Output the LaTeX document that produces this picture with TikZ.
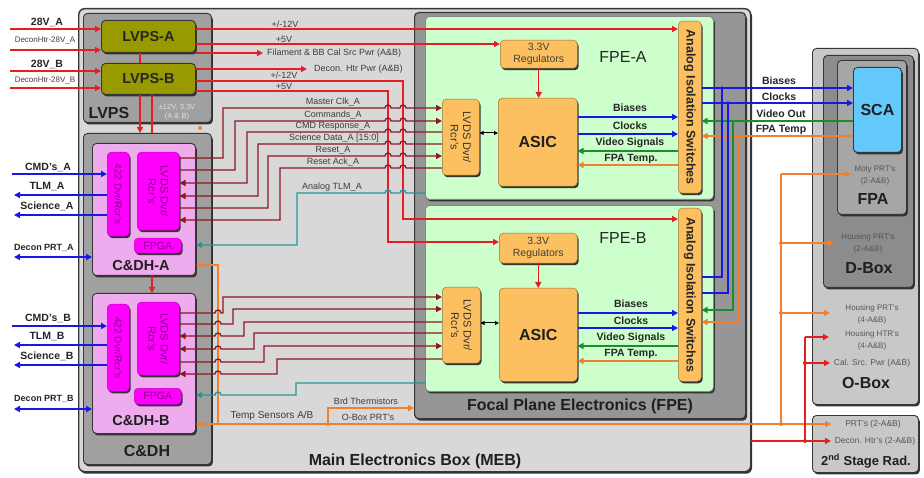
\documentclass[tikz,border=0pt]{standalone}
\usepackage{fontspec}
\setmainfont{Liberation Sans}
\usetikzlibrary{arrows.meta,shadows}
\definecolor{mebfill}{RGB}{216,216,216}
\definecolor{grybox}{RGB}{160,160,160}
\definecolor{edgec}{RGB}{55,55,55}
\definecolor{lvpsol}{RGB}{153,153,0}
\definecolor{cdhpink}{RGB}{238,172,238}
\definecolor{magb}{RGB}{255,0,255}
\definecolor{magtxt}{RGB}{135,0,135}
\definecolor{fpegray}{RGB}{150,150,150}
\definecolor{fpegreen}{RGB}{204,255,204}
\definecolor{orbox}{RGB}{253,192,96}
\definecolor{scablue}{RGB}{100,200,250}
\definecolor{oboxc}{RGB}{200,200,200}
\definecolor{dboxc}{RGB}{140,140,140}
\definecolor{fpac}{RGB}{166,166,166}
\definecolor{pwr}{RGB}{228,30,36}
\definecolor{sig}{RGB}{140,22,34}
\definecolor{blu}{RGB}{24,24,230}
\definecolor{grn}{RGB}{30,140,40}
\definecolor{org}{RGB}{240,128,48}
\definecolor{teal2}{RGB}{40,150,150}
\definecolor{lbl}{RGB}{60,60,60}
\definecolor{lbl2}{RGB}{85,85,85}
\newcommand\myfs[2]{\fontsize{#1}{#2}\selectfont}
\newcommand\bx[7]{\node[box,#1,minimum width=#4-#2,minimum height=#5-#3] (#6) at (#2,#3) {#7};}
\newcommand\hop[2]{-- (#1-3,#2) arc[start angle=180,end angle=0,radius=3pt]}
\begin{document}
\begin{tikzpicture}[x=1pt,y=-1pt,
 box/.style={draw=edgec,line width=0.9pt,rounded corners=4pt,inner sep=0pt,anchor=north west,align=center,
   drop shadow={shadow xshift=1.4pt,shadow yshift=-2pt,fill=black!80,opacity=1}},
 mg/.style={fill=magb,draw=magb!75!black,line width=0.5pt},
 ob/.style={fill=orbox,draw=orbox!60!black,line width=0.5pt},
 pw/.style={draw=pwr,line width=1.4pt},
 sg/.style={draw=sig,line width=1.3pt},
 bu/.style={draw=blu,line width=1.4pt},
 gn/.style={draw=grn,line width=1.4pt},
 og/.style={draw=org,line width=1.4pt},
 tq/.style={draw=teal2,line width=1.3pt},
 ah/.style={-{Triangle[length=6pt,width=6pt]}},
 ahr/.style={{Triangle[length=6pt,width=6pt]}-},
 ahb/.style={{Triangle[length=6pt,width=6pt]}-{Triangle[length=6pt,width=6pt]}},
 tx/.style={inner sep=0pt,text=lbl,font=\myfs{9}{10}},
 fl/.style={inner sep=0pt,text=black!85,font=\myfs{10.5}{12}\bfseries},
 big/.style={inner sep=0pt,text=black!88,font=\myfs{16}{18}\bfseries},
 inl/.style={inner sep=0pt,text=black!85,font=\myfs{10.5}{12}\bfseries},
 isml/.style={inner sep=0pt,text=black!75,font=\myfs{8}{9}},
 sm/.style={inner sep=0pt,text=lbl2,font=\myfs{8}{12},align=center},
 rt/.style={inner sep=0pt,rotate=-90,align=center}
]
\fill[white] (0,0) rectangle (924,478);
\useasboundingbox (0,0) rectangle (924,478);
% ---------- boxes ----------
\bx{fill=mebfill,line width=1.4pt,rounded corners=6pt}{78}{8}{750}{471}{MEB}{}
\bx{fill=grybox}{83}{13}{211}{122}{LVPS}{}
\bx{fill=lvpsol,font=\myfs{14.5}{17}\bfseries,text=black!85}{101}{20}{195}{52}{LVPSA}{LVPS-A}
\bx{fill=lvpsol,font=\myfs{14.5}{17}\bfseries,text=black!85}{101}{63}{195}{94}{LVPSB}{LVPS-B}
\bx{fill=grybox}{83}{133}{211}{464}{CDH}{}
\bx{fill=cdhpink}{92}{143}{195}{275}{CDHA}{}
\bx{mg}{107}{152}{129}{236}{MA}{}
\bx{mg}{137}{152}{179}{230}{LA}{}
\bx{mg,font=\myfs{10.5}{12},text=magtxt}{134}{238}{181}{253}{GA}{FPGA}
\bx{fill=cdhpink}{92}{293}{195}{433}{CDHB}{}
\bx{mg}{107}{304}{129}{391}{MB}{}
\bx{mg}{137}{302}{179}{375}{LB}{}
\bx{mg,font=\myfs{10.5}{12},text=magtxt}{134}{388}{181}{404}{GB}{FPGA}
\bx{fill=fpegray,line width=1.2pt}{414}{12}{745}{418}{FPE}{}
\bx{fill=fpegreen,draw=edgec!60}{425}{16}{713}{199}{FPEA}{}
\bx{ob,font=\myfs{10.5}{12},text=black!75}{500}{40}{577}{68}{RegA}{3.3V\\Regulators}
\bx{ob,font=\myfs{16}{18}\bfseries,text=black!88}{498}{98}{577}{186}{ASICA}{ASIC}
\bx{ob}{442}{99}{479}{175}{LFA}{}
\bx{ob}{678}{21}{701}{193}{SWA}{}
\bx{fill=fpegreen,draw=edgec!60}{425}{205}{713}{391}{FPEB}{}
\bx{ob,font=\myfs{10.5}{12},text=black!75}{499}{233}{577}{263}{RegB}{3.3V\\Regulators}
\bx{ob,font=\myfs{16}{18}\bfseries,text=black!88}{499}{288}{577}{381}{ASICB}{ASIC}
\bx{ob}{442}{287}{480}{363}{LFB}{}
\bx{ob}{678}{208}{701}{381}{SWB}{}
\bx{fill=oboxc}{812}{48}{918}{404}{OBOX}{}
\bx{fill=dboxc}{823}{55}{913}{287}{DBOX}{}
\bx{fill=fpac}{837}{60}{906}{214}{FPAB}{}
\bx{fill=scablue,font=\myfs{16}{18}\bfseries,text=black!88}{853}{67}{901}{152}{SCA}{SCA}
\bx{fill=oboxc}{812}{415}{918}{472}{RAD}{}
% ---------- free-end coordinates ----------
\coordinate (i1) at (10,29);
\coordinate (i2) at (10,50);
\coordinate (i3) at (10,71);
\coordinate (i4) at (10,88);
\coordinate (c1) at (12,174);
\coordinate (c2) at (14,195);
\coordinate (c3) at (14,215);
\coordinate (c4) at (14,257);
\coordinate (d1) at (12,326);
\coordinate (d2) at (14,345);
\coordinate (d3) at (14,365);
\coordinate (d4) at (14,409);
\coordinate (pFil) at (263,53);
\coordinate (pDec) at (307,69);
\coordinate (pMoly) at (851,174);
\coordinate (pHP2) at (834,243);
\coordinate (pHP4) at (830,313);
\coordinate (pHH) at (829,337);
\coordinate (pCal) at (830,363);
\coordinate (pPRT) at (831,424);
\coordinate (pDH) at (831,441);
% ---------- power inputs ----------
\draw[pw,ah] (i1) -- (LVPSA.west|-0,29);
\draw[pw,ah] (i2) -- (LVPSA.west|-0,50);
\draw[pw,ah] (i3) -- (LVPSB.west|-0,71);
\draw[pw,ah] (i4) -- (LVPSB.west|-0,88);
% ---------- LVPS outputs ----------
\draw[pw,ah] (LVPSA.east|-0,29) -- (SWA.west|-0,29);
\draw[pw,ah] (LVPSA.east|-0,44) -- (RegA.west|-0,44);
\draw[pw,ah] (LVPSA.east|-0,53) -- (pFil);
\draw[pw,ah] (LVPSB.east|-0,69) -- (pDec);
\draw[pw,ah] (LVPSB.east|-0,81) -- (403,81) -- (403,219) -- (SWB.west|-0,219);
\draw[pw,ah] (LVPSB.east|-0,91) -- (388,91) -- (388,242) -- (RegB.west|-0,242);
\draw[pw] (LVPSA.south-|140,0) -- (LVPSB.north-|140,0);
\draw[pw,ah] (LVPSB.south-|140,0) -- (CDH.north-|140,0);
\draw[pw] (LVPSB.south-|152,0) -- (CDH.north-|152,0);
\draw[pw,ah] (CDHA.south-|152,0) -- (CDHB.north-|152,0);
\fill[org] (200,128) circle (2pt);
% ---------- C&DH external ----------
\draw[bu,ah] (c1) -- (MA.west|-0,174);
\draw[bu,ah] (MA.west|-0,195) -- (c2);
\draw[bu,ah] (MA.west|-0,215) -- (c3);
\draw[bu,ahb] (c4) -- (CDHA.west|-0,257);
\draw[bu,ah] (d1) -- (MB.west|-0,326);
\draw[bu,ah] (MB.west|-0,345) -- (d2);
\draw[bu,ah] (MB.west|-0,365) -- (d3);
\draw[bu,ahb] (d4) -- (CDHB.west|-0,409);
% ---------- orange temperature ----------
\draw[og,ahr] (CDHA.east|-0,265) -- (218,265) -- (218,424);
\draw[og,ahb] (CDHB.east|-0,424) -- (pPRT);
\draw[og,ah] (328,424) -- (328,408) -- (FPE.west|-0,408);
\fill[org] (328,424) circle (2pt);
\draw[og] (781,424) -- (781,174);
\draw[og,ah] (781,174) -- (pMoly);
\draw[og,ah] (781,243) -- (pHP2);
\draw[og,ah] (781,313) -- (pHP4);
\foreach \yy in {243,313,424} \fill[org] (781,\yy) circle (2pt);
% ---------- red outside ----------
\draw[pw,ah] (MEB.east|-0,441) -- (pDH);
\draw[pw] (805,441) -- (805,337);
\draw[pw,ah] (805,337) -- (pHH);
\draw[pw,ah] (805,363) -- (pCal);
\foreach \yy in {363,441} \fill[pwr] (805,\yy) circle (2pt);
% ---------- LVDS signals A ----------
\draw[sg,ah] (LA.east|-0,158) -- (223,158) -- (223,108) \hop{388}{108} \hop{403}{108} -- (LFA.west|-0,108);
\draw[sg,ah] (LA.east|-0,170) -- (235,170) -- (235,121) \hop{388}{121} \hop{403}{121} -- (LFA.west|-0,121);
\draw[sg,ahr] (LA.east|-0,183) -- (247,183) -- (247,132) \hop{388}{132} \hop{403}{132} -- (LFA.west|-0,132);
\draw[sg,ahr] (LA.east|-0,196) -- (258,196) -- (258,144) \hop{388}{144} \hop{403}{144} -- (LFA.west|-0,144);
\draw[sg,ah] (LA.east|-0,208) -- (268,208) -- (268,156) \hop{388}{156} \hop{403}{156} -- (LFA.west|-0,156);
\draw[sg,ahr] (LA.east|-0,220) -- (280,220) -- (280,168) \hop{388}{168} \hop{403}{168} -- (LFA.west|-0,168);
\draw[tq,ahr] (CDHA.east|-0,245) -- (297,245) -- (297,193) \hop{388}{193} \hop{403}{193} -- (FPEA.west|-0,193);
% ---------- LVDS signals B ----------
\draw[sg,ah] (LB.east|-0,313) \hop{218}{313} -- (223,313) -- (223,297) -- (LFB.west|-0,297);
\draw[sg,ah] (LB.east|-0,324) \hop{218}{324} -- (233,324) -- (233,309) -- (LFB.west|-0,309);
\draw[sg,ahr] (LB.east|-0,336) \hop{218}{336} -- (244,336) -- (244,322) -- (LFB.west|-0,322);
\draw[sg,ahr] (LB.east|-0,349) \hop{218}{349} -- (254,349) -- (254,333) -- (LFB.west|-0,333);
\draw[sg,ah] (LB.east|-0,362) \hop{218}{362} -- (264,362) -- (264,346) -- (LFB.west|-0,346);
\draw[sg,ahr] (LB.east|-0,374) \hop{218}{374} -- (277,374) -- (277,359) -- (LFB.west|-0,359);
\draw[tq,ahr] (CDHB.east|-0,395) \hop{218}{395} -- (296,395) -- (296,383) -- (FPEB.west|-0,383);
% ---------- FPE internals ----------
\draw[pw,ah] (RegA.south) -- (RegA.south|-ASICA.north);
\draw[pw,ah] (RegB.south) -- (RegB.south|-ASICB.north);
\draw[line width=1pt,{Triangle[length=4pt,width=4pt]}-{Triangle[length=4pt,width=4pt]}] (LFA.east|-0,133) -- (ASICA.west|-0,133);
\draw[line width=1pt,{Triangle[length=4pt,width=4pt]}-{Triangle[length=4pt,width=4pt]}] (LFB.east|-0,323) -- (ASICB.west|-0,323);
\draw[bu,ah] (ASICA.east|-0,117) -- (SWA.west|-0,117);
\draw[bu,ah] (ASICA.east|-0,134) -- (SWA.west|-0,134);
\draw[gn,ah] (SWA.west|-0,151) -- (ASICA.east|-0,151);
\draw[og,ah] (SWA.west|-0,165) -- (ASICA.east|-0,165);
\draw[bu,ah] (ASICB.east|-0,313) -- (SWB.west|-0,313);
\draw[bu,ah] (ASICB.east|-0,328) -- (SWB.west|-0,328);
\draw[gn,ah] (SWB.west|-0,346) -- (ASICB.east|-0,346);
\draw[og,ah] (SWB.west|-0,361) -- (ASICB.east|-0,361);
% ---------- FPE to SCA ----------
\draw[bu,ah] (SWA.east|-0,88) -- (SCA.west|-0,88);
\draw[bu,ah] (SWA.east|-0,103) -- (SCA.west|-0,103);
\draw[gn,ah] (SCA.west|-0,121) -- (SWA.east|-0,121);
\draw[og,ah] (SCA.west|-0,136) -- (SWA.east|-0,136);
\draw[bu] (722,88) -- (722,277) -- (SWB.east|-0,277);
\draw[bu] (728,103) -- (728,293) -- (SWB.east|-0,293);
\draw[gn,ah] (733,121) -- (733,310) -- (SWB.east|-0,310);
\draw[og,ah] (739,136) -- (739,322) -- (SWB.east|-0,322);
\fill[blu] (722,88) circle (1.8pt) (728,103) circle (1.8pt);
% ---------- box labels ----------
\node[big] (tLVPS) at (109,113) {LVPS};
\node[inner sep=0pt,text=white!88!black,font=\myfs{7.5}{9},align=center] (tV) at (177,112) {±12V, 3.3V\\(A \& B)};
\node[big] (tCDH) at (147,451) {C\&DH};
\node[big,font=\myfs{14.5}{16}\bfseries] (tCA) at (141,266) {C\&DH-A};
\node[big,font=\myfs{14.5}{16}\bfseries] (tCB) at (141,421) {C\&DH-B};
\node[big] (tMEB) at (415,461) {Main Electronics Box (MEB)};
\node[big] (tFPE) at (580,406) {Focal Plane Electronics (FPE)};
\node[inner sep=0pt,font=\myfs{16}{18},text=black!85] (tFA) at (623,57) {FPE-A};
\node[inner sep=0pt,font=\myfs{16}{18},text=black!85] (tFB) at (623,238) {FPE-B};
\node[big] (tFPA) at (873,199) {FPA};
\node[big] (tDB) at (869,268) {D-Box};
\node[big] (tOB) at (866,383) {O-Box};
\node[big,font=\myfs{13}{15}\bfseries] (tRad) at (866,461) {2\textsuperscript{nd} Stage Rad.};
\node[sm] (tMoly) at (875,175) {Moly PRT's\\(2-A\&B)};
\node[sm] (tHP2) at (868,243) {Housing PRT's\\(2-A\&B)};
\node[sm] (tHP4) at (872,314) {Housing PRT's\\(4-A\&B)};
\node[sm] (tHH) at (872,340) {Housing HTR's\\(4-A\&B)};
\node[sm,font=\myfs{8.5}{10}] (tCal) at (872,363) {Cal. Src. Pwr (A\&B)};
\node[sm,font=\myfs{8.5}{10}] (tPRT) at (873,424) {PRT's (2-A\&B)};
\node[sm,font=\myfs{8.5}{10}] (tDH) at (875,441) {Decon. Htr's (2-A\&B)};
% rotated
\node[rt,text=magtxt,font=\myfs{10}{11}] (tMA) at (MA.center) {422 Dvr/Rcr's};
\node[rt,text=magtxt,font=\myfs{10}{11}] (tMB) at (MB.center) {422 Dvr/Rcr's};
\node[rt,text=magtxt,font=\myfs{11}{12.5}] (tLA) at (LA.center) {LVDS Dvr/\\Rcr's};
\node[rt,text=magtxt,font=\myfs{11}{12.5}] (tLB) at (LB.center) {LVDS Dvr/\\Rcr's};
\node[rt,text=black!80,font=\myfs{11}{12.5}] (tLFA) at (LFA.center) {LVDS Dvr/\\Rcr's};
\node[rt,text=black!80,font=\myfs{11}{12.5}] (tLFB) at (LFB.center) {LVDS Dvr/\\Rcr's};
\node[rt,text=black!85,font=\myfs{12.5}{14}\bfseries] (tSWA) at (SWA.center) {Analog Isolation Switches};
\node[rt,text=black!85,font=\myfs{12.5}{14}\bfseries] (tSWB) at (SWB.center) {Analog Isolation Switches};
% input labels
\node[inl] (t28A) at (47,22) {28V\_A};
\node[isml] (tDHA) at (45,41) {DeconHtr-28V\_A};
\node[inl] (t28B) at (47,64) {28V\_B};
\node[isml] (tDHB) at (45,81) {DeconHtr-28V\_B};
\node[inl] (tCmdA) at (48,167) {CMD's\_A};
\node[inl] (tTlmA) at (47,187) {TLM\_A};
\node[inl] (tSciA) at (47,206) {Science\_A};
\node[inl,font=\myfs{9}{10}\bfseries] (tDpA) at (44,248) {Decon PRT\_A};
\node[inl] (tCmdB) at (48,318) {CMD's\_B};
\node[inl] (tTlmB) at (47,337) {TLM\_B};
\node[inl] (tSciB) at (47,356) {Science\_B};
\node[inl,font=\myfs{9}{10}\bfseries] (tDpB) at (44,399) {Decon PRT\_B};
% power labels
\node[tx] (tP1) at (285,24) {+/-12V};
\node[tx] (tP2) at (284,39.5) {+5V};
\node[tx,anchor=west] (tFil) at (267,53) {Filament \& BB Cal Src Pwr (A\&B)};
\node[tx,anchor=west] (tDec) at (314,69) {Decon. Htr Pwr (A\&B)};
\node[tx] (tP3) at (284,75) {+/-12V};
\node[tx] (tP4) at (284,86.5) {+5V};
% signal labels
\node[tx] (tS1) at (333,102.5) {Master Clk\_A};
\node[tx] (tS2) at (333,115.5) {Commands\_A};
\node[tx] (tS3) at (333,126.5) {CMD Response\_A};
\node[tx] (tS4) at (334,138.5) {Science Data\_A [15:0]};
\node[tx] (tS5) at (333,150.5) {Reset\_A};
\node[tx] (tS6) at (333,162.5) {Reset Ack\_A};
\node[tx] (tS7) at (332,187) {Analog TLM\_A};
\node[tx,font=\myfs{10}{11}] (tTemp) at (272,416) {Temp Sensors A/B};
\node[tx] (tBrd) at (366,401) {Brd Thermistors};
\node[tx] (tObp) at (368,417) {O-Box PRT's};
% FPE labels
\node[fl] (tBa) at (630,108) {Biases};
\node[fl] (tCa) at (630,126) {Clocks};
\node[fl] (tVa) at (630,143) {Video Signals};
\node[fl] (tTa) at (631,159) {FPA Temp.};
\node[fl] (tBb) at (631,304) {Biases};
\node[fl] (tCb) at (631,321) {Clocks};
\node[fl] (tVb) at (631,337.5) {Video Signals};
\node[fl] (tTb) at (631,354) {FPA Temp.};
\node[fl] (tBr) at (779,81) {Biases};
\node[fl] (tCr) at (779,96.5) {Clocks};
\node[fl] (tVr) at (781,114) {Video Out};
\node[fl] (tTr) at (781,129.5) {FPA Temp};
\end{tikzpicture}
\end{document}
